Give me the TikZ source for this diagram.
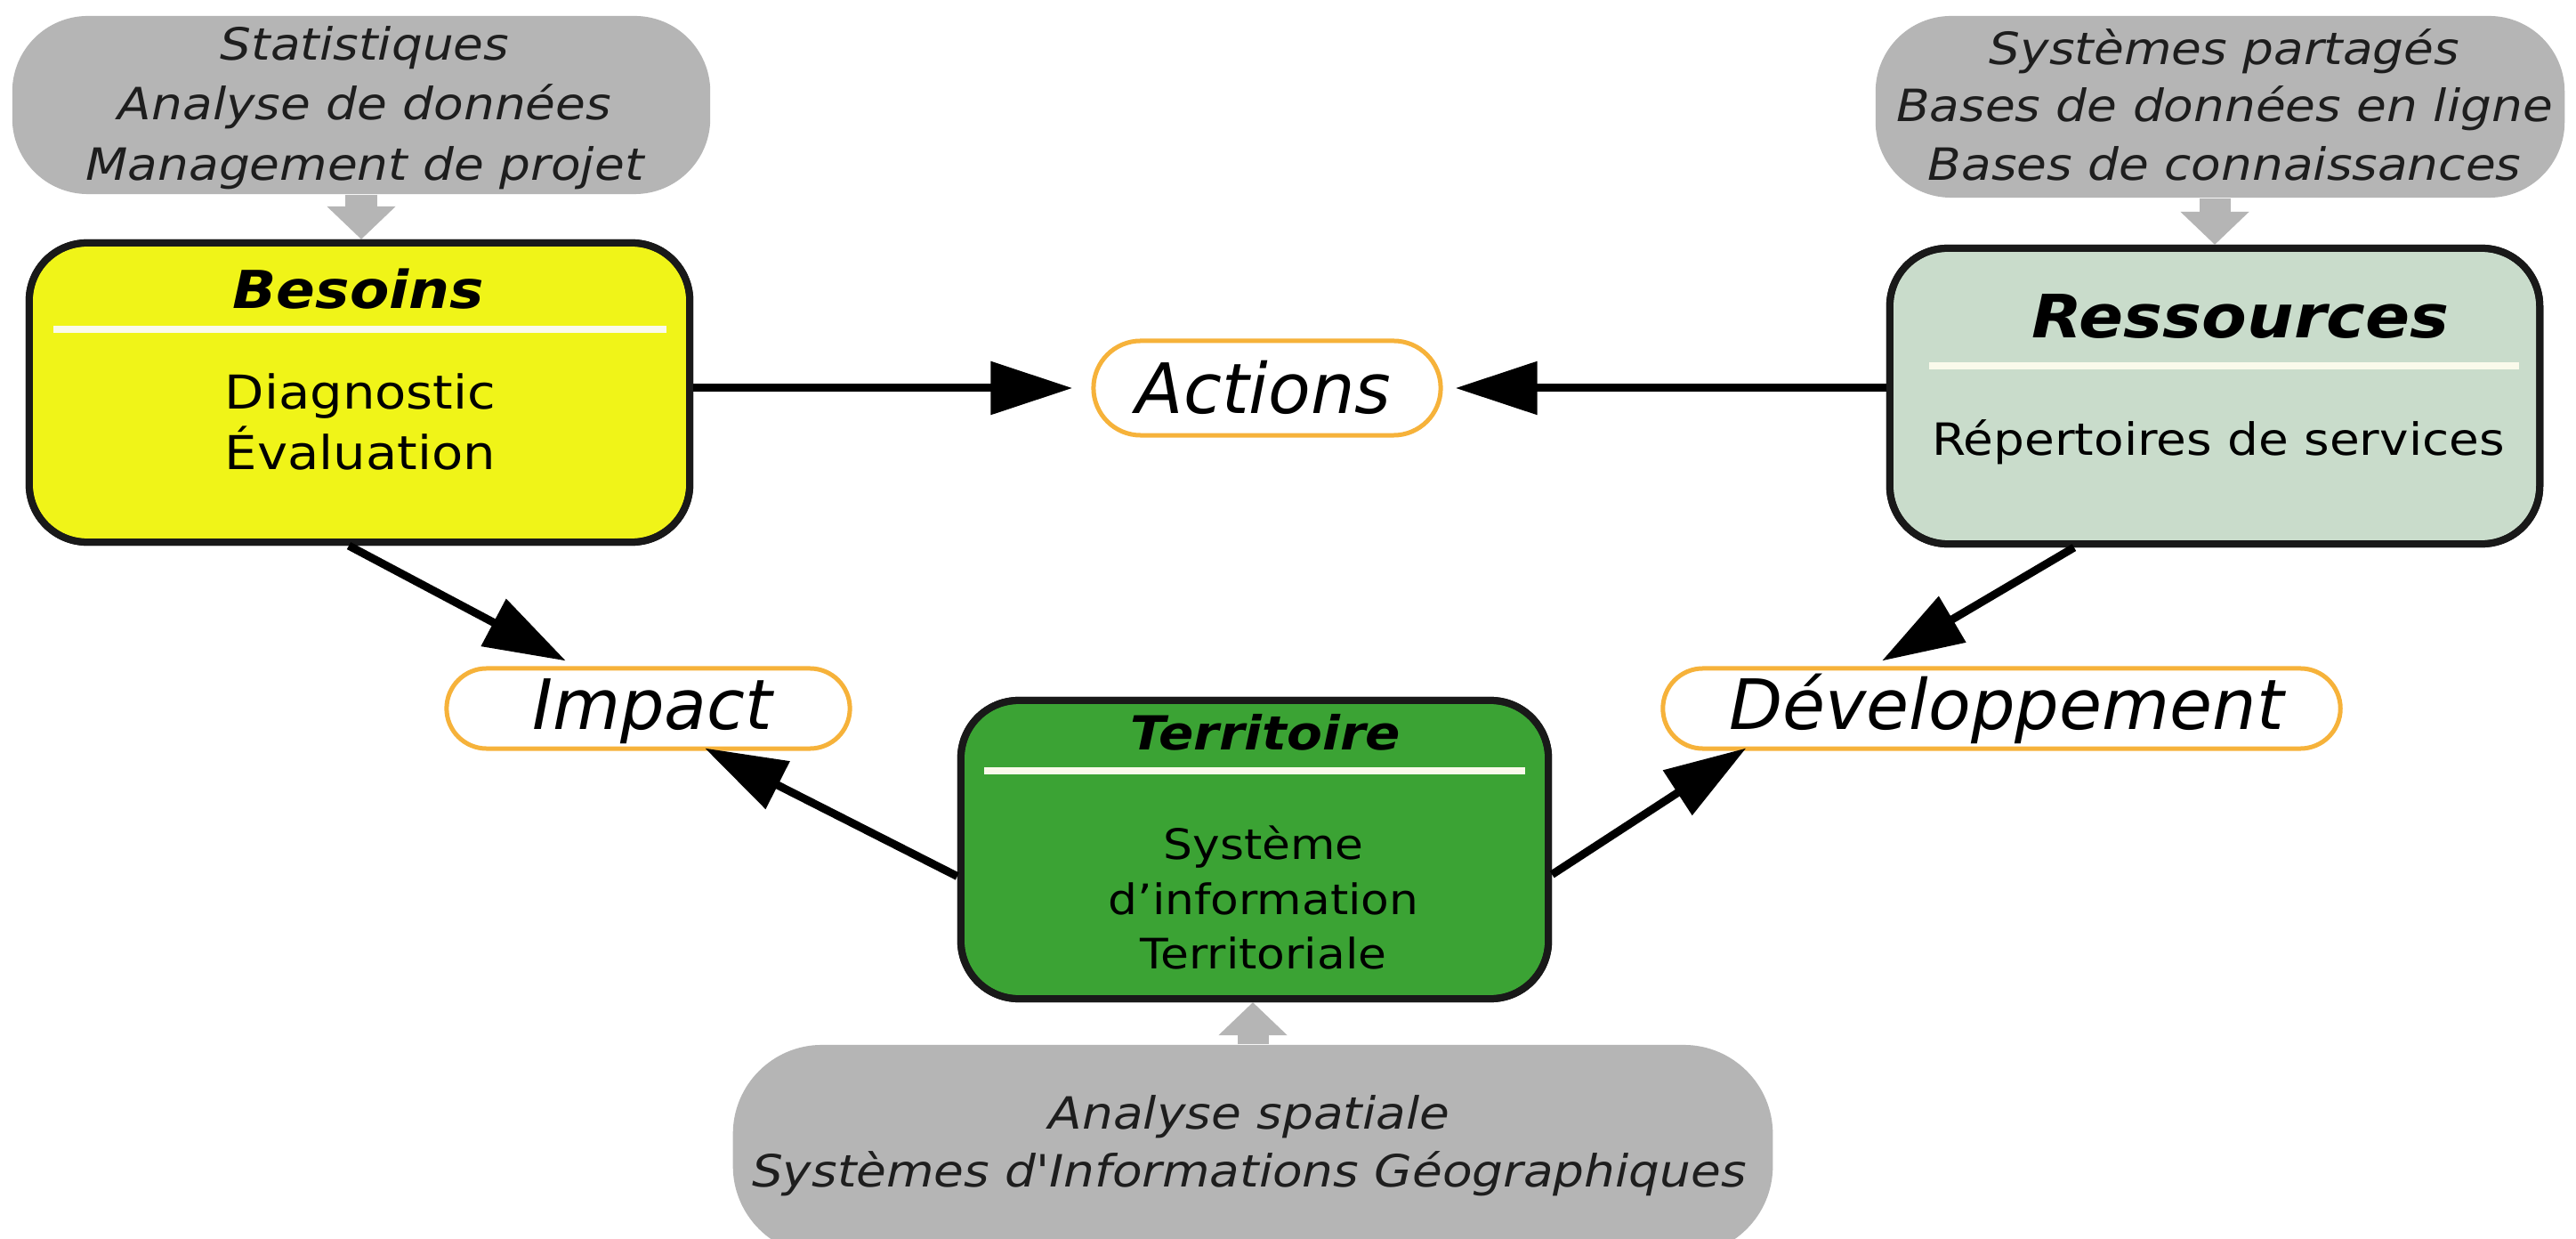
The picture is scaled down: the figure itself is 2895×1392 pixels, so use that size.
\documentclass[tikz,border=0pt]{standalone}
\usepackage{fontspec}
\setmainfont{DejaVu Sans}
\newfontfamily\wfont[FakeStretch=1.1]{DejaVu Sans}
\newfontfamily\lfont{DejaVu Sans}
\usetikzlibrary{arrows.meta}
\definecolor{yel}{RGB}{240,244,24}
\definecolor{resfill}{RGB}{201,220,203}
\definecolor{terfill}{RGB}{59,163,52}
\definecolor{gfill}{RGB}{181,181,181}
\definecolor{orng}{RGB}{246,178,58}
\definecolor{gtext}{RGB}{30,30,30}
\definecolor{sepline}{RGB}{250,250,235}
\tikzset{
  box/.style={draw=black!90, line width=0.08cm, rounded corners=0.65cm, inner sep=0pt},
  gbox/.style={fill=gfill, rounded corners=0.85cm, inner sep=0pt},
  oval/.style={draw=orng, line width=0.05cm, fill=white, inner sep=0pt},
  txt/.style={anchor=base, inner sep=0pt, text=black},
  graytxt/.style={txt, text=gtext, font=\wfont\itshape\fontsize{14.2pt}{19pt}\selectfont},
  labtxt/.style={txt, font=\lfont\itshape\fontsize{22.2pt}{26pt}\selectfont},
  conn/.style={line width=0.09cm, -{Triangle[length=0.92cm,width=0.58cm]}},
  garrow/.style={draw=gfill, line width=0.35cm, -{Triangle[length=0.37cm,width=0.75cm]}},
  sep/.style={draw=sepline, line width=0.08cm}
}
\begin{document}
\begin{tikzpicture}[x=0.01cm,y=-0.01cm]
\clip (0,0) rectangle (2895,1392);
\fill[white] (0,0) rectangle (2895,1392);

% gray source boxes
\node[gbox, minimum width=7.84cm, minimum height=2.00cm] (gtl) at (406,118) {};
\node[gbox, minimum width=7.74cm, minimum height=2.04cm] (gtr) at (2495,120) {};
\node[gbox, rounded corners=1.0cm, minimum width=11.68cm, minimum height=2.36cm] (gbot) at (1408,1292) {};

% main boxes
\node[box, fill=yel, minimum width=7.42cm, minimum height=3.36cm] (bes) at (404,441) {};
\node[box, fill=resfill, minimum width=7.30cm, minimum height=3.32cm] (res) at (2489,445) {};
\node[box, fill=terfill, minimum width=6.60cm, minimum height=3.35cm] (ter) at (1410,954.5) {};

% gray arrows
\draw[garrow] (gtl.south) -- (gtl.south |- bes.north);
\draw[garrow] (res.north |- gtr.south) -- (res.north);
\draw[garrow] (gbot.north) -- (gbot.north |- ter.south);

% redraw box borders over gray arrow tips
\node[box, minimum width=7.42cm, minimum height=3.36cm] (besb) at (bes) {};
\node[box, minimum width=7.30cm, minimum height=3.32cm] (resb) at (res) {};
\node[box, minimum width=6.60cm, minimum height=3.35cm] (terb) at (ter) {};

% oval labels
\node[oval, rounded corners=0.53cm, minimum width=3.90cm, minimum height=1.06cm] (act) at (1424,436) {};
\node[oval, rounded corners=0.45cm, minimum width=4.53cm, minimum height=0.90cm] (imp) at (728.5,796) {};
\node[oval, rounded corners=0.45cm, minimum width=7.61cm, minimum height=0.90cm] (dev) at (2249.5,796) {};

% separators
\draw[sep] (60,370) -- (749,370);
\draw[sep] (2168,411) -- (2831,411);
\draw[sep] (1106,866) -- (1714,866);

% gray texts
\node[graytxt] (g1) at (410,68) {Statistiques};
\node[graytxt] (g2) at (410,135) {Analyse de données};
\node[graytxt] (g3) at (410,203) {Management de projet};
\node[graytxt] (g4) at (2500,73) {Systèmes partagés};
\node[graytxt] (g5) at (2500,137) {Bases de données en ligne};
\node[graytxt] (g6) at (2500,203) {Bases de connaissances};
\node[graytxt] (g7) at (1404,1268) {Analyse spatiale};
\node[graytxt] (g8) at (1404,1333) {Systèmes d'Informations Géographiques};

% box titles
\node[txt, font=\wfont\bfseries\itshape\fontsize{16.7pt}{20pt}\selectfont] (bt) at (403,347) {Besoins};
\node[txt, font=\wfont\bfseries\itshape\fontsize{19.1pt}{22pt}\selectfont] (rt) at (2518,380) {Ressources};
\node[txt, font=\wfont\bfseries\itshape\fontsize{15pt}{18pt}\selectfont] (tt) at (1422,842) {Territoire};

% box bodies
\node[txt, font=\wfont\fontsize{14.9pt}{19pt}\selectfont] (b1) at (405,460) {Diagnostic};
\node[txt, font=\wfont\fontsize{14.9pt}{19pt}\selectfont] (b2) at (405,528) {Évaluation};
\node[txt, font=\wfont\fontsize{14.2pt}{19pt}\selectfont] (r1) at (2493,512) {Répertoires de services};
\node[txt, font=\wfont\fontsize{13.4pt}{17pt}\selectfont] (s1) at (1420,965) {Système};
\node[txt, font=\wfont\fontsize{13.4pt}{17pt}\selectfont] (s2) at (1420,1027) {d’information};
\node[txt, font=\wfont\fontsize{13.4pt}{17pt}\selectfont] (s3) at (1420,1088) {Territoriale};

% label texts
\node[labtxt] (at) at (1420,465) {Actions};
\node[labtxt] (it) at (733,820) {Impact};
\node[labtxt] (dt) at (2255,820) {Développement};

% connectors
\draw[conn, shorten >=0.21cm] (bes.east |- act.west) -- (act.west);
\draw[conn, shorten >=0.14cm] (res.west |- act.east) -- (act.east);
\draw[conn] ([xshift=-0.12cm]bes.south) -- ([xshift=-0.925cm,yshift=0.06cm]imp.north);
\draw[conn] ([yshift=-0.30cm]ter.west) -- ([xshift=0.635cm,yshift=0.03cm]imp.south);
\draw[conn] ([yshift=-0.28cm]ter.east) -- ([xshift=0.96cm,yshift=0.03cm]dev.south west);
\draw[conn] ([xshift=-1.58cm]res.south) -- ([xshift=-1.345cm,yshift=0.06cm]dev.north);
\end{tikzpicture}
\end{document}
